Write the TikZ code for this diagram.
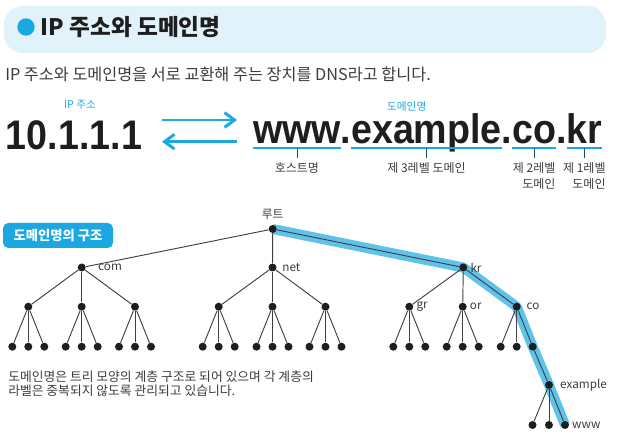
\documentclass[tikz,border=0pt]{standalone}
\usepackage{fontspec}
\setmainfont{Noto Sans CJK KR}
\newfontfamily\bigfont[FakeStretch=0.91]{Liberation Sans}
\usepackage{tikz}
\usetikzlibrary{arrows.meta, positioning, calc, backgrounds}
\definecolor{accent}{RGB}{27, 167, 225}
\definecolor{hdrbg}{RGB}{226, 242, 251}
\definecolor{hilite}{RGB}{95, 194, 234}
\definecolor{ink}{RGB}{30, 30, 30}
\definecolor{txtgray}{RGB}{60, 60, 60}

\begin{document}
\begin{tikzpicture}[x=0.75pt, y=-0.75pt,
	dot/.style={circle, fill=ink, inner sep=0pt, minimum size=6pt},
	edge/.style={draw=ink!85, line width=0.7pt},
	lbl/.style={font=\fontsize{8.8}{10}\selectfont, text=txtgray, inner sep=1pt},
	big/.style={font=\bigfont\bfseries\fontsize{31}{31}\selectfont, text=ink, inner sep=0pt, outer sep=0pt},
	caplbl/.style={font=\fontsize{8}{10}\selectfont, text=accent},
	uline/.style={draw=accent, line width=1.5pt},
	tickline/.style={draw=accent!50!black, line width=0.5pt},
	sub/.style={font=\fontsize{9}{12.5}\selectfont, text=txtgray, inner sep=0pt, align=right},
	arr/.style={-{Straight Barb[length=7.5pt, width=11pt]}, draw=accent, line width=2.2pt},
	hl/.style={draw=hilite, line width=7.5pt, line join=round},
	tag/.style={fill=accent, text=white, rounded corners=4pt, minimum width=82.5pt,
		minimum height=18.75pt, font=\bfseries\fontsize{10}{12}\selectfont}
	]
	\useasboundingbox (0,0) rectangle (622,441);

	\fill[hdrbg, rounded corners=14pt] (4,6) rectangle (606,53);
	\node[circle, fill=accent, inner sep=0pt, minimum size=13pt] (bul) at (26,27) {};
	\node[anchor=west, font=\bfseries\fontsize{17}{20}\selectfont, text=ink] (title) at (36,27) {IP 주소와 도메인명};
	\node[anchor=west, font=\fontsize{12.2}{14}\selectfont, text=txtgray, inner sep=0pt] (intro) at (5,74)
		{IP 주소와 도메인명을 서로 교환해 주는 장치를 DNS라고 합니다.};

	\node[caplbl] (iplbl) at (80,105) {IP 주소};
	\node[caplbl] (domlbl) at (406.7,106.7) {도메인명};

	\node[big, anchor=base west] (ip) at (6,150) {10.1.1.1};
	\node[big, anchor=base west] (dw) at (253,143.5) {www};
	\node[big, base right=0pt of dw] (dd1) {.};
	\node[big, base right=0pt of dd1] (dex) {example};
	\node[big, base right=0pt of dex] (dd2) {.};
	\node[big, base right=0pt of dd2] (dco) {co};
	\node[big, base right=0pt of dco] (dd3) {.};
	\node[big, base right=0pt of dd3] (dkr) {kr};

	\coordinate (a1) at (162,120);
	\coordinate (a2) at (237,120);
	\coordinate (b1) at (237,141.7);
	\coordinate (b2) at (162,141.7);
	\draw[arr] (a1) -- (a2);
	\draw[arr] (b1) -- (b2);

	\coordinate (ul) at (0,148.5);
	\coordinate (tk) at (0,158);
	\foreach \w in {dw,dex,dco,dkr} {
		\draw[uline] (\w.west |- ul) -- (\w.east |- ul);
		\draw[tickline] (\w.south |- ul) -- (\w.south |- tk);
	}
	\node[sub, anchor=north, yshift=-3pt] (lw) at (dw.south |- tk) {호스트명};
	\node[sub, anchor=north, yshift=-3pt] (lex) at (dex.south |- tk) {제 3레벨 도메인};
	\node[sub, anchor=north, yshift=-3pt] (lco) at (dco.south |- tk) {제 2레벨\\도메인};
	\node[sub, anchor=north, yshift=-3pt] (lkr) at (dkr.south |- tk) {제 1레벨\\도메인};

	\node[tag] (tag) at (58,235.5) {도메인명의 구조};

	\node[dot, label={[lbl, label distance=3pt]above:루트}] (root) at (272.7,229) {};
	\node[dot, label={[lbl, label distance=8pt]right:com}] (com) at (81.7,267.5) {};
	\node[dot, label={[lbl, label distance=3pt]right:net}] (net) at (272.5,267.5) {};
	\node[dot, label={[lbl, label distance=1pt]right:kr}] (kr) at (463.3,267.5) {};
	\node[dot] (com-a) at (28.3,306.7) {};
	\node[dot] (com-b) at (81.7,306.7) {};
	\node[dot] (com-c) at (135,306.7) {};
	\node[dot] (net-a) at (218.7,306.7) {};
	\node[dot] (net-b) at (272.5,306.7) {};
	\node[dot] (net-c) at (325.5,306.7) {};
	\node[dot, label={[lbl, label distance=1pt]right:gr}] (gr) at (409.3,306.7) {};
	\node[dot, label={[lbl, label distance=1pt]right:or}] (or) at (462.7,306.7) {};
	\node[dot, label={[lbl, label distance=3pt]right:co}] (co) at (516.7,306.7) {};

	\foreach \p/\q in {root/com, root/net, root/kr, com/com-a, com/com-b, com/com-c,
		net/net-a, net/net-b, net/net-c, kr/gr, kr/or, kr/co}
		\draw[edge] (\p) -- (\q);

	\foreach \p in {com-a,com-b,com-c,net-a,net-b,net-c,gr,or,co}
		\foreach \i/\dx in {1/-16,2/0,3/16} {
			\node[dot] (\p-\i) at ($(\p)+(\dx,40)$) {};
			\draw[edge] (\p) -- (\p-\i);
		}

	\node[dot, label={[lbl, label distance=4pt]right:example}] (ex) at (549,385) {};
	\node[dot] (ex-1) at (532.5,425) {};
	\node[dot] (ex-2) at (549,425) {};
	\node[dot, label={[lbl, label distance=1pt]right:www}] (www) at (565,425) {};
	\draw[edge] (co-3) -- (ex);
	\draw[edge] (ex) -- (ex-1);
	\draw[edge] (ex) -- (ex-2);
	\draw[edge] (ex) -- (www);

	\begin{scope}[on background layer]
		\draw[hl] (root.center) -- (kr.center) -- (co.center) -- (co-3.center) -- (ex.center) -- (www.center);
	\end{scope}

	\node[anchor=north west, align=left, inner sep=0pt, text=txtgray,
		font=\fontsize{9.6}{10.9}\selectfont] (note) at (8,370.5)
		{도메인명은 트리 모양의 계층 구조로 되어 있으며 각 계층의\\라벨은 중복되지 않도록 관리되고 있습니다.};
\end{tikzpicture}
\end{document}
